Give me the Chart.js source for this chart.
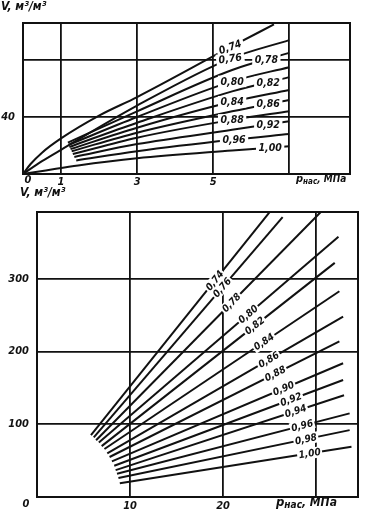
<!DOCTYPE html>
<html>
<head>
<meta charset="utf-8">
<script src="https://cdn.jsdelivr.net/npm/chart.js@4.4.1/dist/chart.umd.min.js"></script>
<style>
  html, body { margin: 0; padding: 0; background: #fff; }
  body { width: 366px; height: 513px; position: relative; overflow: hidden; }
  canvas { position: absolute; left: 0; }
  #top-canvas { top: 0; }
  #bot-canvas { top: 180px; }
</style>
</head>
<body>
<canvas id="top-canvas" width="366" height="190"></canvas>
<canvas id="bot-canvas" width="366" height="333"></canvas>
<script>
/* ================================================
   DATA — gas factor V vs saturation pressure
================================================ */

/* top panel: low pressures (0..7 MPa) */
const topDensity = [0.74, 0.76, 0.78, 0.80, 0.82, 0.84, 0.86, 0.88, 0.92, 0.96, 1.00];
const topP = [
  [0, 0.2, 0.5, 1, 2, 3, 5.45, 6.6],
  [0, 0.5, 1, 3, 5.45, 7],
  [1.18, 3, 5.5, 7],
  [1.2, 3, 5.5, 7],
  [1.22, 3, 5.5, 7],
  [1.25, 3, 5.5, 7],
  [1.28, 3, 5.5, 7],
  [1.31, 3, 5.5, 7],
  [1.35, 3, 5.5, 7],
  [1.4, 3, 5.5, 7],
  [0, 0.6, 1.45, 3, 5.5, 7],
];
const topV = [
  [0, 7, 15, 25, 41, 54, 89, 105],
  [0, 9, 17, 48, 81, 94],
  [22, 44, 73, 85],
  [20.5, 40, 65, 75],
  [19, 36, 58, 68],
  [17.5, 32.5, 50.7, 59],
  [16, 29, 44, 52],
  [14, 25.5, 38, 44],
  [12, 21, 31, 37],
  [9.5, 16, 24, 28],
  [0, 2.5, 6, 11, 16.5, 19.5],
];
const topPTicks = [1, 3, 5, 7];
const topVTicks = [40, 80];

/* bottom panel: high pressures (0..35 MPa) — straight lines */
const botDensity = [0.74, 0.76, 0.78, 0.80, 0.82, 0.84, 0.86, 0.88, 0.90, 0.92, 0.94, 0.96, 0.98, 1.00];
const botStartP = [5.8, 6.1, 6.35, 6.65, 6.95, 7.25, 7.55, 7.8, 8.05, 8.3, 8.45, 8.6, 8.75, 8.9];
const botStartV = [85, 82, 78, 75, 70, 66, 60, 55, 49, 43, 37, 32, 26, 19];
const botEndP   = [25.2, 26.4, 30.5, 32.4, 32.0, 32.5, 32.9, 32.5, 32.9, 32.9, 33.0, 33.6, 33.6, 33.8];
const botEndV   = [395, 385, 392, 358, 322, 283, 248, 214, 184, 161, 140, 115, 92, 69];
const botPTicks = [10, 20, 30];
const botVTicks = [100, 200, 300];

/* where the curve labels sit (pressure along each curve) */
const topLabelP    = [5.45, 5.45, 6.4, 5.5, 6.45, 5.5, 6.45, 5.5, 6.45, 5.55, 6.5];
const topLabelTilt = [0.7, 0.35, 0, 0, 0, 0, 0, 0, 0, 0, 0];
const botLabelP    = [19.1, 19.9, 20.9, 22.7, 23.4, 24.4, 24.9, 25.6, 26.5, 27.3, 27.8, 28.5, 28.9, 29.3];

/* ================================================
   STYLE
================================================ */

const INK  = '#111';
const FONT = "'Liberation Sans Narrow','DejaVu Sans Condensed','Arial Narrow',sans-serif";

function fmt(d) { return d.toFixed(2).replace('.', ','); }

function valueAt(xs, ys, p) {
  for (let i = 1; i < xs.length; i++) {
    if (p <= xs[i]) {
      const t = (p - xs[i - 1]) / (xs[i] - xs[i - 1]);
      return ys[i - 1] + t * (ys[i] - ys[i - 1]);
    }
  }
  return ys[ys.length - 1];
}

/* ================================================
   PLUGIN — frame, in-line labels, axis titles
================================================ */

const nomoPlugin = {
  id: 'nomo',
  beforeDatasetsDraw(chart) {
    const { ctx, chartArea: a } = chart;
    ctx.save();
    ctx.strokeStyle = INK;
    ctx.lineWidth = 2;
    ctx.strokeRect(a.left, a.top, a.right - a.left, a.bottom - a.top);
    ctx.restore();
  },
  afterDatasetsDraw(chart, args, opts) {
    const { ctx } = chart;
    const xs = chart.scales.x, ys = chart.scales.y;
    chart.data.datasets.forEach(ds => {
      if (!ds.tag) return;
      const px = ds.data.map(d => d.x), vy = ds.data.map(d => d.y);
      const p = ds.tagP;
      const x = xs.getPixelForValue(p);
      const y = ys.getPixelForValue(valueAt(px, vy, p));
      const h = opts.step;
      const dx = xs.getPixelForValue(p + h) - xs.getPixelForValue(p - h);
      const dy = ys.getPixelForValue(valueAt(px, vy, p + h)) - ys.getPixelForValue(valueAt(px, vy, p - h));
      const ang = Math.atan2(dy, dx) * ds.tagTilt;

      ctx.save();
      ctx.translate(x, y);
      ctx.rotate(ang);
      ctx.font = `italic bold ${opts.size}px ${FONT}`;
      const w = ctx.measureText(ds.tag).width;
      ctx.fillStyle = '#fff';
      ctx.fillRect(-w / 2 - opts.gap, -opts.size / 2 - 0.5, w + 2 * opts.gap, opts.size + 1);
      ctx.fillStyle = INK;
      ctx.textAlign = 'center';
      ctx.textBaseline = 'middle';
      ctx.fillText(ds.tag, 0, 0.5);
      ctx.restore();
    });
  },
  afterDraw(chart, args, opts) {
    const { ctx } = chart;
    ctx.save();
    ctx.fillStyle = INK;
    ctx.textBaseline = 'alphabetic';

    /* y title: V, м³/м³ */
    const yt = opts.yTitle;
    ctx.font = `italic bold ${yt.size}px ${FONT}`;
    ctx.fillText('V, м³/м³', yt.x, yt.y);

    /* x title: pнас, МПа */
    const xt = opts.xTitle;
    let cx = xt.x;
    ctx.font = `italic bold ${xt.size + 1}px ${FONT}`;
    ctx.fillText('p', cx, xt.y);
    cx += ctx.measureText('p').width;
    ctx.font = `italic bold ${xt.size - 2}px ${FONT}`;
    ctx.fillText('нас', cx, xt.y + 2);
    cx += ctx.measureText('нас').width;
    ctx.font = `italic bold ${xt.size}px ${FONT}`;
    ctx.fillText(', МПа', cx, xt.y);

    /* corner zero */
    const z = opts.zero;
    ctx.font = `italic bold ${z.size}px ${FONT}`;
    ctx.textAlign = 'center';
    ctx.textBaseline = 'middle';
    ctx.fillText('0', z.x, z.y);
    ctx.restore();
  },
};

/* ================================================
   SHARED SCALE BUILDER
================================================ */

function axis(opts) {
  return {
    type: 'linear',
    min: opts.min,
    max: opts.max,
    afterBuildTicks: s => { s.ticks = opts.ticks.map(v => ({ value: v })); },
    afterFit: s => {
      if (opts.width !== undefined) s.width = opts.width;
      if (opts.height !== undefined) s.height = opts.height;
    },
    grid: { color: INK, lineWidth: 1.8, drawTicks: false },
    border: { display: false },
    ticks: {
      color: INK,
      padding: opts.pad,
      maxRotation: 0,
      autoSkip: false,
      font: { family: FONT, size: opts.size, weight: 'bold', style: 'italic' },
      callback: v => (opts.hide.includes(v) ? '' : String(v)),
    },
  };
}

function lineSet(points, tag, tagP, tagTilt, smooth) {
  return {
    data: points,
    showLine: true,
    borderColor: INK,
    borderWidth: 2,
    pointRadius: 0,
    fill: false,
    cubicInterpolationMode: smooth ? 'monotone' : 'default',
    tag, tagP, tagTilt,
  };
}

/* ================================================
   TOP PANEL
================================================ */

function buildTopChart() {
  const datasets = topDensity.map((d, i) =>
    lineSet(topP[i].map((p, k) => ({ x: p, y: topV[i][k] })), fmt(d), topLabelP[i], topLabelTilt[i], true));

  return new Chart(document.getElementById('top-canvas').getContext('2d'), {
    type: 'scatter',
    data: { datasets },
    plugins: [nomoPlugin],
    options: {
      responsive: false,
      animation: false,
      layout: { padding: { top: 23, right: 16, left: 0, bottom: 0 } },
      plugins: {
        legend: { display: false },
        tooltip: { enabled: false },
        nomo: {
          size: 10.5, step: 0.3, gap: 2.5,
          yTitle: { x: 1, y: 10, size: 12 },
          xTitle: { x: 296, y: 182, size: 10 },
          zero: { x: 28, y: 180, size: 11 },
        },
      },
      scales: {
        x: axis({ min: 0, max: 8.6, ticks: topPTicks, hide: [7], height: 16, pad: 2, size: 11 }),
        y: axis({ min: 0, max: 106, ticks: topVTicks, hide: [80], width: 23, pad: 8, size: 11 }),
      },
    },
  });
}

/* ================================================
   BOTTOM PANEL
================================================ */

function buildBottomChart() {
  const datasets = botDensity.map((d, i) =>
    lineSet([{ x: botStartP[i], y: botStartV[i] }, { x: botEndP[i], y: botEndV[i] }],
      fmt(d), botLabelP[i], 1, false));

  return new Chart(document.getElementById('bot-canvas').getContext('2d'), {
    type: 'scatter',
    data: { datasets },
    plugins: [nomoPlugin],
    options: {
      responsive: false,
      animation: false,
      layout: { padding: { top: 32, right: 8, left: 0, bottom: 0 } },
      plugins: {
        legend: { display: false },
        tooltip: { enabled: false },
        nomo: {
          size: 10, step: 1, gap: 1.5,
          yTitle: { x: 20, y: 16, size: 12 },
          xTitle: { x: 276, y: 326, size: 12 },
          zero: { x: 26, y: 324, size: 11 },
        },
      },
      scales: {
        x: axis({ min: 0, max: 34.5, ticks: botPTicks, hide: [30], height: 16, pad: 3, size: 11 }),
        y: axis({ min: 0, max: 392, ticks: botVTicks, hide: [], width: 37, pad: 8, size: 11 }),
      },
    },
  });
}

buildTopChart();
buildBottomChart();
</script>
</body>
</html>
